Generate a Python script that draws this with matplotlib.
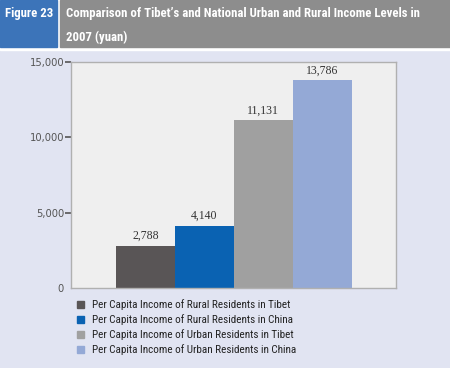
import matplotlib
matplotlib.use('Agg')
import matplotlib.pyplot as plt
from matplotlib.patches import Rectangle

categories = ['Per Capita Income of Rural Residents in Tibet',
              'Per Capita Income of Rural Residents in China',
              'Per Capita Income of Urban Residents in Tibet',
              'Per Capita Income of Urban Residents in China']
values = [2788, 4140, 11131, 13786]
colors = ['#595556', '#0a62b2', '#a0a0a0', '#94a9d6']
yticks = [0, 5000, 10000, 15000]

narrow = ['Roboto Condensed', 'DejaVu Sans']

W, H = 450, 368
fig = plt.figure(figsize=(W / 100, H / 100), dpi=100)
fig.patch.set_facecolor('#e1e4f2')

# header boxes (figure pixel coords -> fraction)
def box(x0, y0, x1, y1, color):
    fig.patches.append(Rectangle((x0 / W, 1 - y1 / H), (x1 - x0) / W, (y1 - y0) / H,
                                 transform=fig.transFigure, color=color, zorder=0))

box(0, 0, W, 50, 'white')
box(0, 0, 57, 47, '#3c74b9')
box(60, 0, W, 47, '#8d8d8d')

fig.text(5 / W, 1 - 14 / H, 'Figure 23', color='white', fontsize=9.2, fontweight='bold',
         family=narrow, va='center', ha='left')
fig.text(66 / W, 1 - 14 / H, "Comparison of Tibet\u2019s and National Urban and Rural Income Levels in",
         color='white', fontsize=9.2, fontweight='bold', family=narrow, va='center', ha='left')
fig.text(66 / W, 1 - 37 / H, '2007 (yuan)', color='white', fontsize=9.2, fontweight='bold',
         family=narrow, va='center', ha='left')

ax = fig.add_axes([71 / W, 1 - 288 / H, (396 - 71) / W, (288 - 62) / H])
ax.set_facecolor('#efefef')

x = list(range(len(values)))
ax.bar(x, values, width=1.0, color=colors, edgecolor='none')
for xi, v in zip(x, values):
    ax.text(xi, v + 250, f'{v:,}', ha='center', va='bottom', fontsize=8.5,
            family='Liberation Serif', color='#333333')

ax.set_xlim(-1.26, 4.25)
ax.set_ylim(0, 15000)
ax.set_yticks(yticks, labels=[f'{t:,}' for t in yticks], fontsize=8,
              family='DejaVu Sans', fontstretch='condensed', color='#555555')
ax.set_xticks([])
ax.tick_params(axis='y', direction='out', length=4, width=1.2, color='#555555', pad=1)
ax.yaxis.get_major_ticks()[0].tick1line.set_visible(False)
for s in ax.spines.values():
    s.set_color('#b0b0b0')
    s.set_linewidth(1)

# legend
for i, (lab, c) in enumerate(zip(categories, colors)):
    yy = 305 + i * 15
    box(77, yy - 4, 84, yy + 3, c)
    fig.text(92 / W, 1 - yy / H, lab, fontsize=8, family=narrow, color='#222222',
             va='center', ha='left')

fig.savefig('out.png', dpi=100, facecolor=fig.get_facecolor())
